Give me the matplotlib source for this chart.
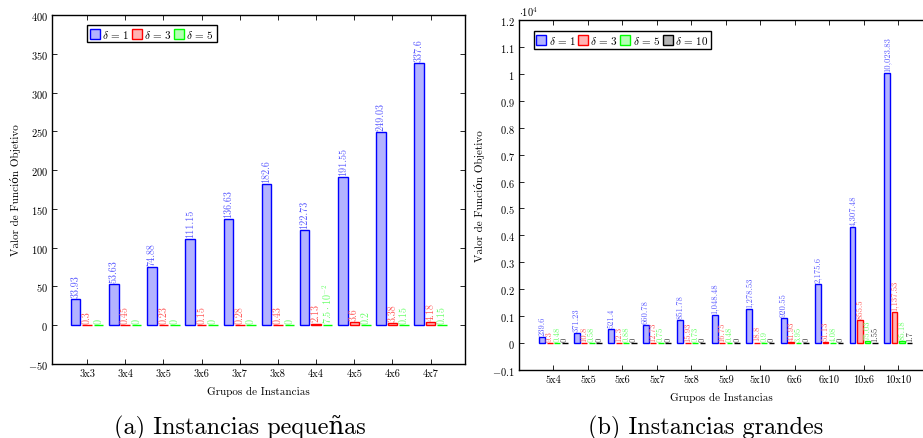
import matplotlib
matplotlib.use("Agg")
import matplotlib.pyplot as plt
from matplotlib.patches import Patch
import numpy as np

plt.rcParams['font.family'] = ['cmr10', 'DejaVu Serif']
plt.rcParams['mathtext.fontset'] = 'cm'
plt.rcParams['axes.unicode_minus'] = False

# (a) Instancias pequeñas
small_groups = ["3x3", "3x4", "3x5", "3x6", "3x7", "3x8", "4x4", "4x5", "4x6", "4x7"]
small_d1 = [33.93, 53.63, 74.88, 111.15, 136.63, 182.6, 122.73, 191.55, 249.03, 337.6]
small_d3 = [0.3, 0.45, 0.23, 0.15, 0.28, 0.43, 2.13, 3.6, 3.38, 4.18]
small_d5 = [0, 0, 0, 0, 0, 0, 0.075, 0.2, 0.15, 0.15]

# (b) Instancias grandes
large_groups = ["5x4", "5x5", "5x6", "5x7", "5x8", "5x9", "5x10", "6x6", "6x10", "10x6", "10x10"]
large_d1 = [239.6, 371.23, 521.4, 660.78, 851.78, 1048.48, 1278.53, 920.55, 2175.6, 4307.48, 10023.83]
large_d3 = [9.3, 10.8, 12.3, 12.73, 15.93, 16.75, 18.8, 41.93, 51.13, 855.5, 1137.53]
large_d5 = [0.48, 0.58, 0.88, 0.75, 0.73, 0.48, 0.9, 3.95, 4.08, 75.03, 85.18]
large_d10 = [0, 0, 0, 0, 0, 0, 0, 0, 0, 1.55, 1.7]

deltas = [1, 3, 5, 10]
fills = ['#b3b3ff', '#ffb3b3', '#b3ffb3', '#b3b3b3']
edges = ['#0000ff', '#ff0000', '#00ff00', '#000000']
txtcol = ['#5a5aff', '#ff5a5a', '#6aff6a', '#404040']


def fmt_val(v):
    if 0 < v < 0.1:
        e = int(np.floor(np.log10(v)))
        m = v / 10 ** e
        return r'$%g\cdot10^{%d}$' % (m, e)
    s = f"{v:,.2f}".rstrip('0').rstrip('.')
    return s


def draw(ax, groups, series, shift, width, lblsize):
    x = np.arange(len(groups))
    n = len(series)
    for i, vals in enumerate(series):
        off = (i - (n - 1) / 2) * shift
        ax.bar(x + off, vals, width, color=fills[i], edgecolor=edges[i], linewidth=1.0, zorder=2)
        for xi, v in zip(x + off, vals):
            ax.annotate(fmt_val(v), (xi, v), xytext=(0, 1.5), textcoords='offset points',
                        rotation=90, ha='center', va='bottom', fontsize=lblsize, color=txtcol[i])
    ax.set_xticks(x)
    ax.set_xticklabels(groups)
    ax.tick_params(direction='in', top=True, right=True, length=3.5, width=0.6, labelsize=7.5, pad=3)
    ax.set_xlabel("Grupos de Instancias", fontsize=8, labelpad=6)
    ax.set_ylabel("Valor de Función Objetivo", fontsize=8, labelpad=5)
    for sp in ax.spines.values():
        sp.set_linewidth(1.0)
    handles = [Patch(facecolor=fills[i], edgecolor=edges[i], linewidth=1.0) for i in range(n)]
    labels = [r'$\delta \,=\, %d$' % deltas[i] for i in range(n)]
    return handles, labels


fig = plt.figure(figsize=(9.23, 4.39), dpi=100)

ax1 = fig.add_axes([0.0563, 0.1686, 0.4475, 0.795])
h, l = draw(ax1, small_groups, [small_d1, small_d3, small_d5], 0.3, 0.25, 7.3)
ax1.set_xlim(-0.92, 9.9)
ax1.set_ylim(-50, 400)
ax1.set_yticks(np.arange(-50, 401, 50))
ax1.set_yticklabels([r'$%d$' % v for v in np.arange(-50, 401, 50)])
ax1.legend(h, l, loc='upper left', bbox_to_anchor=(0.085, 0.972), ncol=3, fontsize=8,
           handlelength=0.9, handleheight=1.0, handletextpad=0.2, columnspacing=0.2,
           borderpad=0.25, borderaxespad=0, fancybox=False, edgecolor='black', framealpha=1)
ax1.get_legend().get_frame().set_linewidth(1.0)

ax2 = fig.add_axes([0.5623, 0.1549, 0.4390, 0.7973])
h, l = draw(ax2, large_groups, [large_d1, large_d3, large_d5, large_d10], 0.217, 0.165, 6.2)
ax2.set_xlim(-1.0, 10.75)
ax2.set_ylim(-1000, 12000)
yt = np.arange(-1000, 12001, 1000)
ax2.set_yticks(yt)
ax2.set_yticklabels([r'$%g$' % (v / 1e4) for v in yt])
ax2.spines['right'].set_visible(False)
ax2.tick_params(right=False)
ax2.text(0.0, 1.006, r'$\cdot10^{4}$', transform=ax2.transAxes, fontsize=7.5, ha='left', va='bottom')
ax2.legend(h, l, loc='upper left', bbox_to_anchor=(0.036, 0.968), ncol=4, fontsize=8,
           handlelength=0.9, handleheight=1.0, handletextpad=0.2, columnspacing=0.2,
           borderpad=0.25, borderaxespad=0, fancybox=False, edgecolor='black', framealpha=1)
ax2.get_legend().get_frame().set_linewidth(1.0)

fig.text(240 / 923, 1 - 428 / 439, "(a) Instancias pequeñas", fontsize=17.5, ha='center', va='center')
fig.text(706 / 923, 1 - 428 / 439, "(b) Instancias grandes", fontsize=17.5, ha='center', va='center')

fig.savefig("out.png", dpi=100)
